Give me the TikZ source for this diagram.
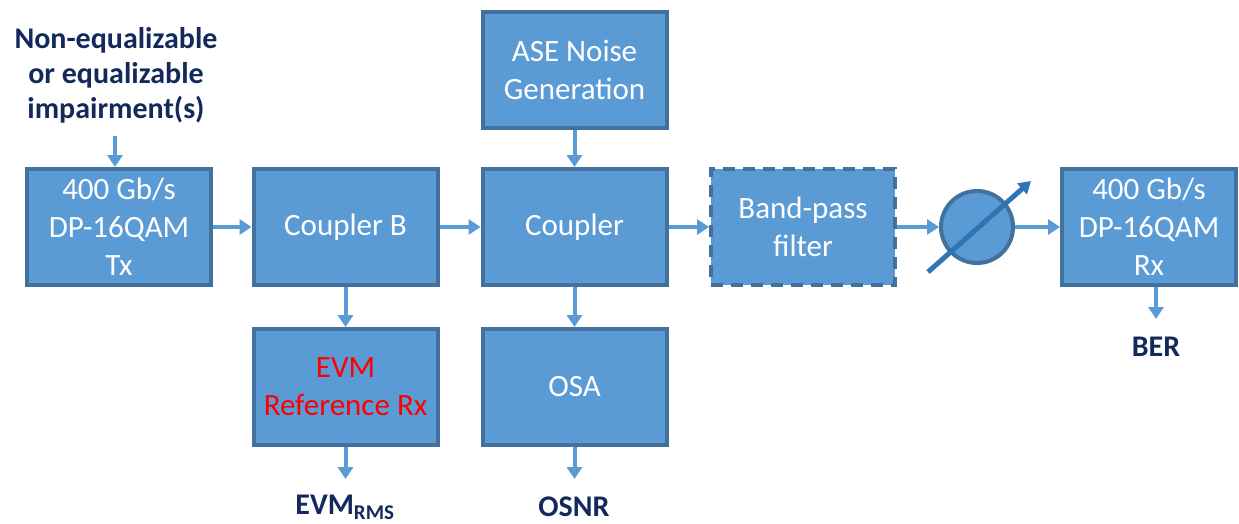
\documentclass[tikz,border=0pt]{standalone}
\usepackage{fontspec}
\setmainfont{Carlito}
\usetikzlibrary{arrows.meta}
\definecolor{boxfill}{HTML}{5B9BD5}
\definecolor{boxline}{HTML}{41719C}
\definecolor{navy}{HTML}{13295B}
\definecolor{attn}{HTML}{2E75B6}
\definecolor{evmred}{HTML}{FF0000}
\begin{document}
\begin{tikzpicture}[x=1pt,y=-1pt,
  box/.style={draw=boxline, fill=boxfill, line width=4pt, text=white,
    minimum width=184pt, minimum height=116pt, align=center, inner sep=0pt,
    font=\fontsize{31}{38}\selectfont},
  dashbox/.style={box, dash pattern=on 12pt off 8pt},
  arr/.style={draw=boxfill, line width=4pt, -{Triangle[width=15pt,length=12pt]}},
  lbl/.style={text=navy, font=\fontsize{30}{35}\selectfont\bfseries, align=center, inner sep=0pt}]
\useasboundingbox (0,0) rectangle (1239,524);
\node[box] (tx) at (119,227) {400 Gb/s\\DP-16QAM\\Tx};
\node[box] (cb) at (345.5,227) {Coupler B};
\node[box] (cp) at (574.5,227) {Coupler};
\node[box] (ase) at (574.5,70) {ASE Noise\\Generation};
\node[dashbox] (bp) at (803,227) {Band-pass\\filter};
\node[draw=boxline, fill=boxfill, line width=4pt, circle, minimum size=72pt, inner sep=0pt] (vo) at (977,227) {};
\node[box, minimum width=174pt] (rx) at (1149,227) {400 Gb/s\\DP-16QAM\\Rx};
\node[box, text=evmred] (evm) at (345.5,387) {EVM\\Reference Rx};
\node[box] (osa) at (574.5,387) {OSA};
\node[lbl] (imp) at (116,75) {Non-equalizable\\or equalizable\\impairment(s)};
\node[lbl] (ber) at (1156,347) {BER};
\node[lbl] (evmrms) at (345,507) {EVM\textsubscript{RMS}};
\node[lbl] (osnr) at (574,507) {OSNR};
\coordinate (impstart) at (115,136);
\coordinate (impend) at (115,167);
\coordinate (rxout) at (1156,287);
\coordinate (berend) at (1156,319);
\coordinate (evmend) at (345.5,479);
\coordinate (osnrend) at (574.5,479);
\coordinate (a1) at (928,272);
\coordinate (a2) at (1031,181);
\draw[arr] (impstart) -- (impend);
\draw[arr] (tx.east) -- (cb.west);
\draw[arr] (cb.east) -- (cp.west);
\draw[arr] (ase.south) -- (cp.north);
\draw[arr] (cp.east) -- (bp.west);
\draw[arr] (bp.east) -- (vo.west);
\draw[arr] (vo.east) -- (rx.west);
\draw[arr] (cb.south) -- (evm.north);
\draw[arr] (cp.south) -- (osa.north);
\draw[arr] (evm.south) -- (evmend);
\draw[arr] (osa.south) -- (osnrend);
\draw[arr] (rxout) -- (berend);
\draw[draw=attn, line width=5pt, -{Triangle[width=14pt,length=12pt]}] (a1) -- (a2);
\end{tikzpicture}
\end{document}
